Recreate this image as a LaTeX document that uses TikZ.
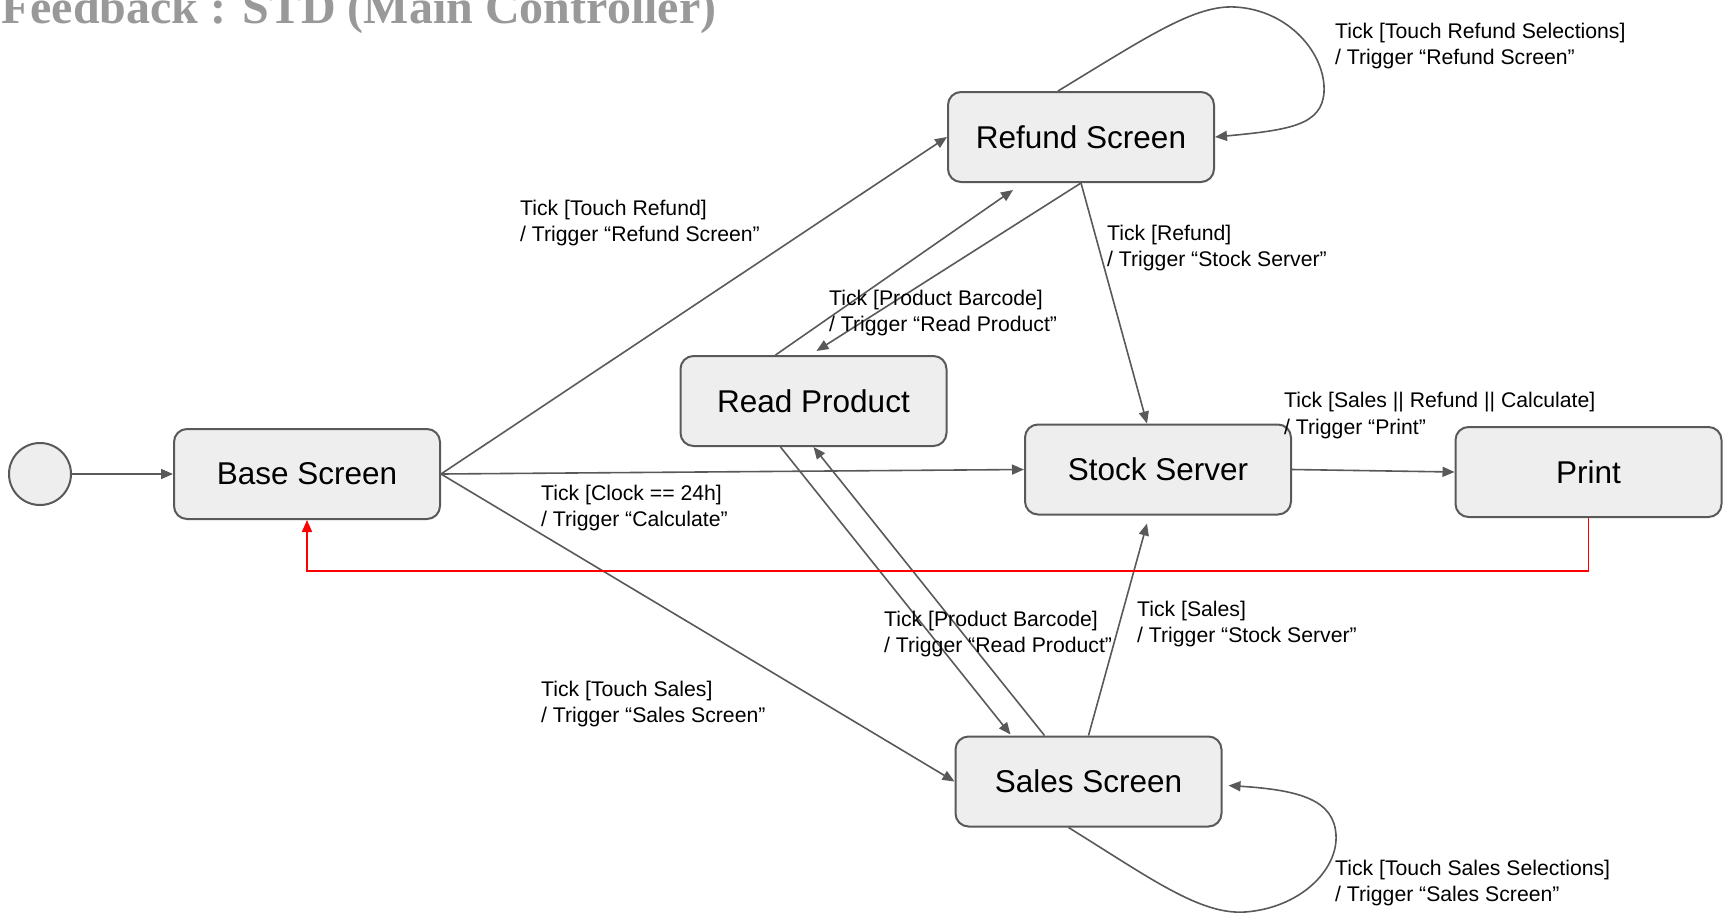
\documentclass[tikz,border=0pt]{standalone}
\usepackage{fontspec}
\setmainfont{Liberation Sans}
\newfontfamily\titlefont{Liberation Serif}
\usetikzlibrary{arrows.meta,calc}
\definecolor{edgegray}{HTML}{595959}
\definecolor{boxfill}{HTML}{EEEEEE}
\definecolor{titlegray}{HTML}{999999}
\definecolor{fbred}{HTML}{FF0000}
\begin{document}
\begin{tikzpicture}[x=1pt,y=-1pt,
  state/.style={draw=edgegray, line width=2pt, fill=boxfill, rounded corners=13pt,
    minimum width=266pt, minimum height=90pt, inner sep=0pt,
    font=\fontsize{31.5}{38}\selectfont},
  initstate/.style={circle, draw=edgegray, line width=2pt, fill=boxfill,
    minimum size=62pt, inner sep=0pt},
  conn/.style={draw=edgegray, line width=1.6pt, -{Triangle[length=12pt,width=10pt]}},
  back/.style={draw=fbred, line width=1.6pt, -{Triangle[length=12pt,width=10pt]}},
  lbl/.style={anchor=base west, inner sep=0pt, font=\fontsize{21.2}{26}\selectfont},
]
\useasboundingbox (0,0) rectangle (1729,919);
\clip (0,0) rectangle (1729,919);

% title
\node[anchor=base west, inner sep=0pt, text=titlegray,
  font=\titlefont\bfseries\fontsize{48}{58}\selectfont] (title) at (1,23)
  {Feedback : STD (Main Controller)};

% states
\node[initstate] (init) at (40,474) {};
\node[state] (base) at (307,474) {Base Screen};
\node[state] (refund) at (1081,137) {Refund Screen};
\node[state] (read) at (813.5,401) {Read Product};
\node[state] (stock) at (1158,469.5) {Stock Server};
\node[state] (print) at (1588.5,472) {Print};
\node[state] (sales) at (1088.5,781.5) {Sales Screen};

% connectors
\draw[conn] (init) -- (base);
\draw[conn] (base.east) -- (refund.west);
\draw[conn] (base.east) -- (stock.west);
\draw[conn] (base.east) -- (sales.west);
\draw[conn] ($(read.north)+(-38,0)$) -- ($(refund.south)+(-68,7)$);
\draw[conn] (refund.south) -- ($(read.north)+(3,-4)$);
\draw[conn] (refund.south) -- ($(stock.north)+(-11,0)$);
\draw[conn] ($(read.south)+(-33,0)$) -- ($(sales.north)+(-78,-1)$);
\draw[conn] ($(sales.north)+(-44,0)$) -- (read.south);
\draw[conn] (sales.north) -- ($(stock.south)+(-11,8)$);
\draw[conn] (stock.east) -- (print.west);
\draw[conn] ($(refund.north)+(-23,0)$) .. controls (1150,35) and (1195,5) .. (1235,7)
  .. controls (1290,10) and (1326,55) .. (1324,92)
  .. controls (1322,125) and (1290,130) .. (refund.east);
\draw[conn] ($(sales.south)+(-20,0)$) .. controls (1150,878) and (1200,915) .. (1245,912)
  .. controls (1300,908) and (1338,870) .. (1336,835)
  .. controls (1334,800) and (1300,790) .. ($(sales.east)+(6,4)$);
\draw[back] (print.south) -- ++(0,53) -| (base.south);

% labels
\node[lbl] (lRefA) at (520,215) {Tick [Touch Refund]};
\node[lbl] (lRefB) at (520,241) {/ Trigger “Refund Screen”};
\node[lbl] (lClkA) at (541,500) {Tick [Clock == 24h]};
\node[lbl] (lClkB) at (541,526) {/ Trigger “Calculate”};
\node[lbl] (lSalA) at (541,696) {Tick [Touch Sales]};
\node[lbl] (lSalB) at (541,722) {/ Trigger “Sales Screen”};
\node[lbl] (lRpA) at (829,305) {Tick [Product Barcode]};
\node[lbl] (lRpB) at (829,331) {/ Trigger “Read Product”};
\node[lbl] (lRsA) at (1107,240) {Tick [Refund]};
\node[lbl] (lRsB) at (1107,266) {/ Trigger “Stock Server”};
\node[lbl] (lTlA) at (1335,38.5) {Tick [Touch Refund Selections]};
\node[lbl] (lTlB) at (1335,64.5) {/ Trigger “Refund Screen”};
\node[lbl] (lPrA) at (1284,407.5) {Tick [Sales || Refund || Calculate]};
\node[lbl] (lPrB) at (1284,434) {/ Trigger “Print”};
\node[lbl] (lRqA) at (884,626) {Tick [Product Barcode]};
\node[lbl] (lRqB) at (884,652) {/ Trigger “Read Product”};
\node[lbl] (lSsA) at (1137,616) {Tick [Sales]};
\node[lbl] (lSsB) at (1137,642) {/ Trigger “Stock Server”};
\node[lbl] (lBlA) at (1335,875) {Tick [Touch Sales Selections]};
\node[lbl] (lBlB) at (1335,901) {/ Trigger “Sales Screen”};
\end{tikzpicture}
\end{document}
